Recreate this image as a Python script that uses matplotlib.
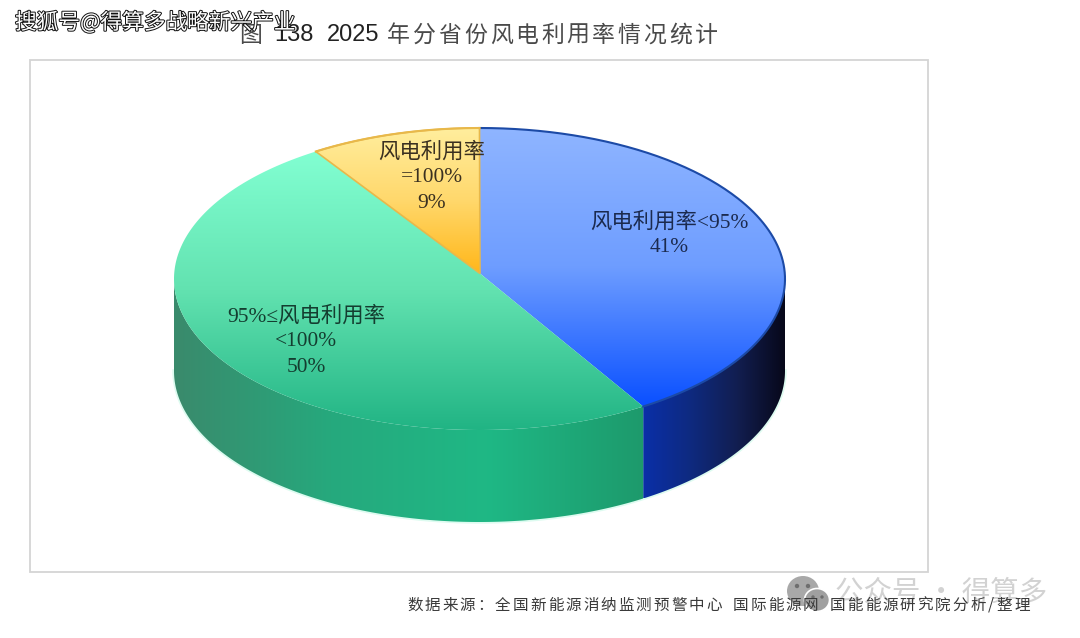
"""
2025 年分省份风电利用率情况统计：立体饼图
"""

import numpy as np
import matplotlib
matplotlib.use('Agg')
import matplotlib.pyplot as plt
import matplotlib.patheffects as pe
from matplotlib.colors import LinearSegmentedColormap
from matplotlib.patches import Ellipse, Polygon, Rectangle

# 数据
SHARES = [41, 50, 9]
SLICE_LABELS = [
    ['风电利用率<95%', '41%'],
    ['95%≤风电利用率', '<100%', '50%'],
    ['风电利用率', '=100%', '9%'],
]
TITLE_NUMBER = '138'
TITLE_YEAR = '2025'
TITLE_TEXT = '年分省份风电利用率情况统计'
SOURCE_TEXT = '数据来源：全国新能源消纳监测预警中心 国际能源网 国能能源研究院分析/整理'
STAMP_TEXT = '搜狐号@得算多战略新兴产业'
ACCOUNT_TEXT = '公众号 · 得算多'

# 饼图几何（像素）
CX, CY = 479.5, 279
RX, RY = 305.5, 151
APEX = (480, 273.5)
DEPTH = 92

# 顶面竖直渐变、侧面水平渐变
TOP_COLORS = [
    ['#8FB5FF', '#6E9DFF', '#0A50FF'],
    ['#82FFD2', '#62E2B0', '#21B484'],
    ['#FFEE9E', '#FFD86C', '#FFB71A'],
]
SIDE_COLORS = [
    ['#0A2FA8', '#0E2A80', '#121E50', '#07081A'],
    ['#3A8A6C', '#26A97D', '#1FB885', '#1D9A6C'],
]
EDGE_COLORS = ['#1C4AA6', None, '#E8B84A']
SERIF = ['Liberation Serif', 'Noto Sans CJK SC']
CJK = ['Noto Sans CJK SC', 'DejaVu Sans']

plt.rcParams['font.family'] = CJK


def arc(t0, t1, dy=0.0, n=200):
    """椭圆弧上的点，角度从正上方起顺时针"""
    t = np.radians(np.linspace(t0, t1, n))
    return np.column_stack([CX + RX * np.sin(t), CY - RY * np.cos(t) + dy])


def gradient_fill(ax, verts, colors, vertical=True, zorder=2):
    """用裁剪后的渐变图填充多边形"""
    cmap = LinearSegmentedColormap.from_list('g', colors)
    ramp = np.linspace(0, 1, 256)
    ramp = ramp[:, None] if vertical else ramp[None, :]
    x0, y0 = verts.min(axis=0)
    x1, y1 = verts.max(axis=0)
    im = ax.imshow(ramp, cmap=cmap, extent=[x0, x1, y1, y0], origin='upper',
                   aspect='auto', zorder=zorder, interpolation='bilinear')
    clip = Polygon(verts, closed=True, transform=ax.transData, fc='none', ec='none')
    ax.add_patch(clip)
    im.set_clip_path(clip)


def spaced_text(ax, x, y, s, pitch, **kw):
    """按固定字距逐字绘制，返回结束位置"""
    for ch in s:
        step = pitch if ord(ch) > 255 else pitch * 0.5
        ax.text(x + step / 2, y, ch, ha='center', va='center', **kw)
        x += step
    return x


fig = plt.figure(figsize=(10.8, 6.38), dpi=100)
ax = fig.add_axes([0, 0, 1, 1])
ax.axis('off')

# 外框
ax.add_patch(Rectangle((30, 59.5), 898, 512, fc='white', ec='#D4D4D4', lw=1.3, zorder=1))

# 各扇区的起止角
edges = np.concatenate([[0], np.cumsum(SHARES)]) / np.sum(SHARES) * 360.0

# 侧面：只画椭圆下半圈
for i in range(2):
    t0, t1 = max(edges[i], 90), min(edges[i + 1], 270)
    upper = arc(t0, t1)
    lower = arc(t1, t0, dy=DEPTH)
    gradient_fill(ax, np.vstack([upper, lower]), SIDE_COLORS[i], vertical=False, zorder=2)

# 底边淡淡的光晕
rim = arc(90, 270, dy=DEPTH)
ax.plot(rim[:, 0], rim[:, 1], color='#9FF5D5', lw=2.5, alpha=0.35, zorder=1.5)

# 顶面
for i in range(3):
    outline = np.vstack([[APEX], arc(edges[i], edges[i + 1])])
    gradient_fill(ax, outline, TOP_COLORS[i], vertical=True, zorder=3)
    if EDGE_COLORS[i]:
        curve = arc(edges[i], edges[i + 1])
        ax.plot(curve[:, 0], curve[:, 1], color=EDGE_COLORS[i], lw=1.5, zorder=4)
        if i == 2:
            ax.add_patch(Polygon(outline, closed=True, fc='none', ec=EDGE_COLORS[i],
                                 lw=1.2, zorder=4))

# 扇区标签
label_pos = [(669, 222), (306, 316), (432, 152)]
for lines, (lx, ly), color in zip(SLICE_LABELS, label_pos, ['#1B2A4E', '#143D30', '#3A3020']):
    for k, line in enumerate(lines):
        ax.text(lx, ly + k * 25.8, line, ha='center', va='center', fontsize=15.4,
                family=SERIF, color=color, zorder=5)

# 标题
title_kw = dict(fontsize=16.5, color='#4A4A4A', zorder=5)
spaced_text(ax, 238, 35.5, '图', 25, **title_kw)
ax.text(274, 35, TITLE_NUMBER, ha='left', va='center', fontsize=17,
        family='Liberation Sans', color='#222222', zorder=5)
ax.text(327, 35, TITLE_YEAR, ha='left', va='center', fontsize=17,
        family='Liberation Sans', color='#222222', zorder=5)
spaced_text(ax, 386, 35.5, TITLE_TEXT, 25.6, **title_kw)

# 公众号水印
ax.add_patch(Ellipse((803, 591), 32, 30, fc='#A8A8A8', ec='none', zorder=6))
ax.add_patch(Ellipse((817, 600), 25, 23, fc='#A0A0A0', ec='white', lw=1.2, zorder=6))
for ex, ey, r in [(797, 586, 2.2), (808, 586, 2.2), (813, 597, 1.7), (822, 597, 1.7)]:
    ax.add_patch(Ellipse((ex, ey), 2 * r, 2 * r, fc='#6E6E6E', ec='none', zorder=7))
ax.text(835, 592, ACCOUNT_TEXT, ha='left', va='center', fontsize=20.5,
        color='#D2D2D2', zorder=6)

# 数据来源
spaced_text(ax, 406, 605.5, SOURCE_TEXT, 17.6, fontsize=11.2, color='#3A3A3A', zorder=8)

# 左上角来源标记
ax.text(15, 23, STAMP_TEXT, ha='left', va='center', fontsize=15.6, color='white', zorder=9,
        path_effects=[pe.withStroke(linewidth=1.4, foreground='#111111')])

ax.set_xlim(0, 1080)
ax.set_ylim(638, 0)
fig.savefig('out.png', dpi=100, facecolor='white')
plt.close(fig)
